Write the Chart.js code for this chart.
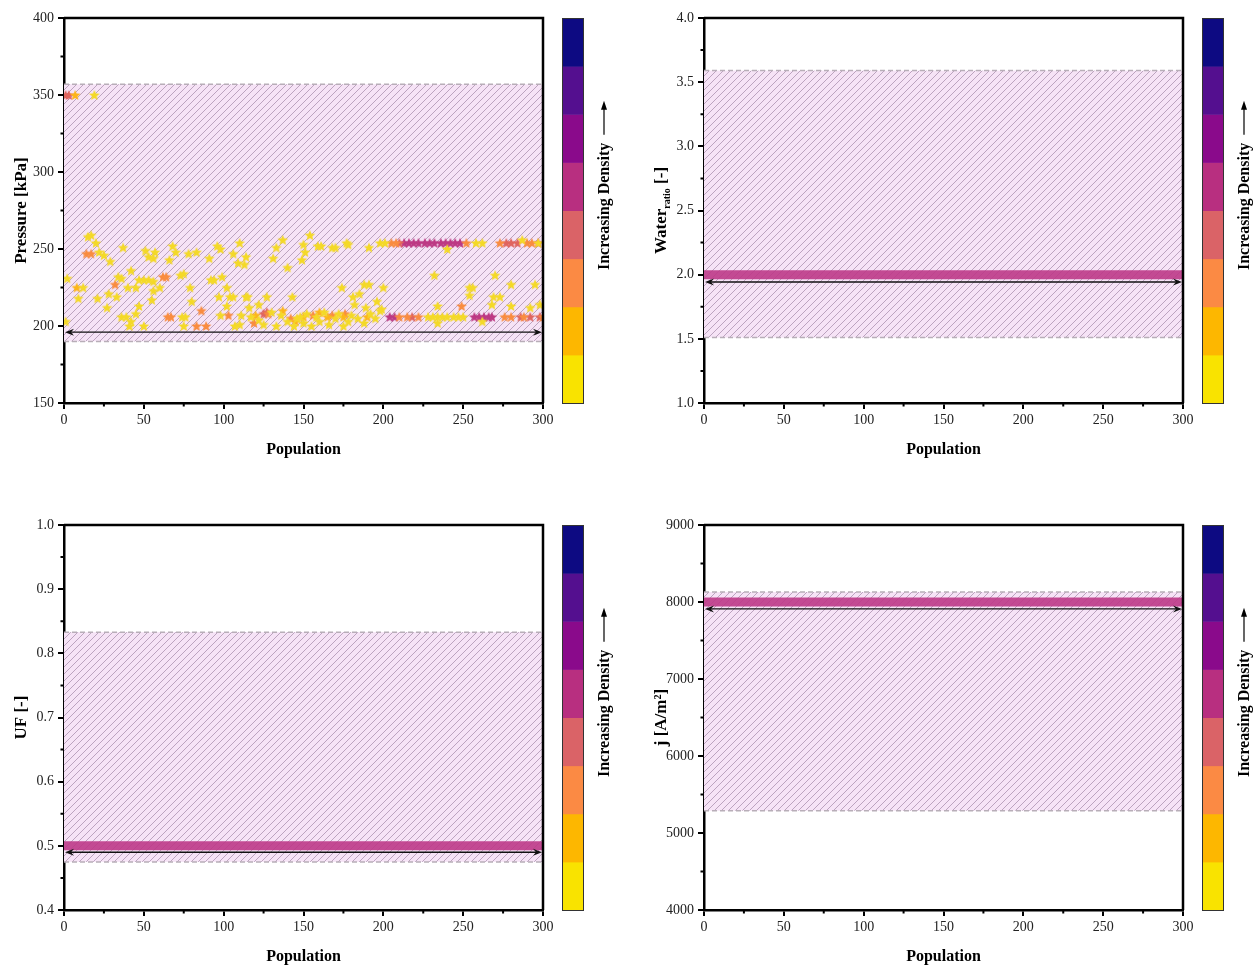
<!DOCTYPE html>
<html>
<head>
<meta charset="utf-8">
<title>Population density</title>
<script src="https://cdn.jsdelivr.net/npm/chart.js@4.4.1/dist/chart.umd.min.js"></script>
<style>
    html, body { margin: 0; padding: 0; background: #fff; }
    .panel { position: absolute; width: 629px; height: 462px; }
</style>
</head>
<body>
<div class="panel" style="left:0;top:0"><canvas id="pressureChart" width="629" height="462"></canvas></div>
<div class="panel" style="left:640px;top:0"><canvas id="waterChart" width="629" height="462"></canvas></div>
<div class="panel" style="left:0;top:507px"><canvas id="ufChart" width="629" height="462"></canvas></div>
<div class="panel" style="left:640px;top:507px"><canvas id="currentChart" width="629" height="462"></canvas></div>
<script>
// ---- Data ----
// Population index shared by all panels
const populationRange = [0, 300];
const populationTicks = [0, 50, 100, 150, 200, 250, 300];

// Density colour levels (bottom -> top of colour bar)
const densityColors = ['#F9E300', '#FDB700', '#FB8A44', '#DA6367', '#B82F80', '#8A0A8B', '#540F8F', '#0D0A82'];
const starColors = ['#F4D928', '#FDB51A', '#F98C40', '#E0655F', '#BD3984'];

// Pressure [kPa] - points per density level [population, value]
const pressureLevel0 = [
    [15,258],[17,259],[20,254],[22,248],[25,246],[29,242],[37,251],[51,249],[53,245],[57,248],[56,244],
    [66,243],[68,252],[70,248],[78,247],[83,248],[91,244],[96,252],[98,250],[106,247],[110,254],[109,241],
    [114,245],[113,240],[131,244],[133,251],[137,256],[140,238],[149,243],[150,253],[151,248],[154,259],
    [159,252],[161,252],[168,251],[170,251],[177,254],[178,253],[191,251],[198,254],[201,254],[240,250],
    [258,254],[262,254],[287,256],[297,254],
    [2,231],[12,225],[9,218],[21,218],[27,212],[28,221],[34,232],[36,231],[33,219],[42,236],[40,225],
    [45,225],[47,213],[47,230],[50,230],[53,230],[56,229],[56,223],[60,225],[55,217],[73,233],[75,234],
    [79,225],[80,216],[94,230],[92,230],[97,219],[99,232],[102,225],[104,219],[106,219],[102,213],
    [115,219],[116,212],[114,219],[122,214],[127,219],[143,219],[174,225],[181,219],[182,214],[185,221],
    [188,227],[189,212],[191,227],[196,216],[199,211],[200,225],[232,233],[234,213],[254,225],[256,225],
    [254,220],[268,214],[269,219],[270,233],[273,219],[280,227],[280,213],[292,212],[295,227],[298,214],
    [1,203],[36,206],[39,206],[42,203],[41,200],[45,208],[50,200],[74,206],[76,206],[75,200],[98,207],
    [107,200],[110,201],[111,207],[117,206],[122,204],[125,201],[130,209],[133,200],[136,207],[140,203],
    [144,200],[146,205],[148,206],[150,202],[152,208],[155,200],[158,206],[160,203],[163,209],[166,201],
    [170,205],[172,208],[175,200],[178,203],[180,207],[184,205],[188,202],[192,208],[195,205],[198,210],
    [228,206],[231,206],[234,206],[237,206],[240,206],[244,206],[247,206],[250,206],[234,202],[262,203],
    [19,350]
];
const pressureLevel1 = [
    [8,225],[120,207],[137,210],[150,206],[160,209],[175,206],[145,203],[190,206],[165,206],[7,350]
];
const pressureLevel2 = [
    [14,247],[17,247],[32,227],[62,232],[64,232],[65,206],[67,206],[83,200],[89,200],[86,210],[103,207],
    [119,202],[128,208],[142,205],[156,207],[168,207],[176,208],[205,254],[208,254],[252,254],[249,213],
    [276,206],[280,206],[288,206],[210,206],[215,206],[222,206],[300,206],[273,254],[290,254],[293,254]
];
const pressureLevel3 = [
    [1,350],[3,350],[127,209],[210,254],[277,254],[280,254],[284,254],[297,254],[218,206],[286,206],
    [292,206],[298,206],[125,208]
];
const pressureLevel4 = [
    [213,254],[216,254],[219,254],[222,254],[226,254],[229,254],[232,254],[236,254],[239,254],[242,254],
    [245,254],[248,254],[204,206],[207,206],[257,206],[260,206],[263,206],[266,206],[268,206]
];

// Converged values for the other variables (whole population)
const waterValue = 2.0;
const ufValue = 0.5;
const currentValue = 8000;

// Bounds (hatched band) and arrow positions
const pressureBand = [190, 357];
const waterBand = [1.51, 3.59];
const ufBand = [0.475, 0.833];
const currentBand = [5290, 8130];
const pressureArrow = 196;
const waterArrow = 1.943;
const ufArrow = 0.49;
const currentArrow = 7910;

// ---- Helpers ----
const SERIF = '"Liberation Serif", "Times New Roman", serif';

function makeStar(color, r) {
    const size = Math.ceil(r * 2 + 2);
    const c = document.createElement('canvas');
    c.width = c.height = size;
    const g = c.getContext('2d');
    g.translate(size / 2, size / 2 + 0.5);
    g.beginPath();
    for (let i = 0; i < 10; i++) {
        const rad = i % 2 ? r * 0.45 : r;
        const ang = -Math.PI / 2 + i * Math.PI / 5;
        g.lineTo(rad * Math.cos(ang), rad * Math.sin(ang));
    }
    g.closePath();
    g.fillStyle = color;
    g.fill();
    return c;
}

function makeHatch() {
    const s = 7;
    const c = document.createElement('canvas');
    c.width = c.height = s;
    const g = c.getContext('2d');
    g.fillStyle = '#F6E3F6';
    g.fillRect(0, 0, s, s);
    g.strokeStyle = 'rgba(150,120,155,0.6)';
    g.lineWidth = 1;
    g.beginPath();
    g.moveTo(-1, s + 1); g.lineTo(s + 1, -1);
    g.moveTo(-1, 1); g.lineTo(1, -1);
    g.moveTo(s - 1, s + 1); g.lineTo(s + 1, s - 1);
    g.stroke();
    return c;
}

const starImages = starColors.map(c => makeStar(c, 5.6));
const hatchTile = makeHatch();

function toPoints(arr) {
    return arr.map(p => ({ x: p[0], y: p[1] }));
}

function arrowHead(ctx, x, y, dir) {
    ctx.beginPath();
    ctx.moveTo(x, y);
    ctx.lineTo(x - dir * 9, y - 3.5);
    ctx.lineTo(x - dir * 6, y);
    ctx.lineTo(x - dir * 9, y + 3.5);
    ctx.closePath();
    ctx.fill();
}

// Draw band, arrow, frame, minor ticks, colour bar and y title
const panelDecor = {
    id: 'panelDecor',
    beforeDatasetsDraw(chart, args, opts) {
        const { ctx, chartArea: a, scales: { y } } = chart;
        const yTop = y.getPixelForValue(opts.band[1]);
        const yBot = y.getPixelForValue(opts.band[0]);
        ctx.save();
        ctx.fillStyle = ctx.createPattern(hatchTile, 'repeat');
        ctx.fillRect(a.left, yTop, a.right - a.left, yBot - yTop);
        ctx.setLineDash([5, 3]);
        ctx.strokeStyle = '#B8AEB8';
        ctx.lineWidth = 1.5;
        ctx.beginPath();
        ctx.moveTo(a.left, yTop); ctx.lineTo(a.right, yTop);
        ctx.moveTo(a.left, yBot); ctx.lineTo(a.right, yBot);
        ctx.stroke();
        ctx.restore();
    },
    afterDatasetsDraw(chart, args, opts) {
        const { ctx, chartArea: a, scales: { x, y } } = chart;
        ctx.save();

        // Double-headed arrow over the population range
        const ay = y.getPixelForValue(opts.arrowAt);
        const x0 = x.getPixelForValue(populationRange[0]);
        const x1 = x.getPixelForValue(populationRange[1]);
        ctx.strokeStyle = '#111';
        ctx.fillStyle = '#111';
        ctx.lineWidth = 1.3;
        ctx.beginPath();
        ctx.moveTo(x0 + 4, ay); ctx.lineTo(x1 - 4, ay);
        ctx.stroke();
        arrowHead(ctx, x0 + 1, ay, -1);
        arrowHead(ctx, x1 - 1, ay, 1);

        // Frame (top/right)
        ctx.strokeStyle = '#000';
        ctx.lineWidth = 2.5;
        ctx.beginPath();
        ctx.moveTo(a.left, a.top); ctx.lineTo(a.right, a.top); ctx.lineTo(a.right, a.bottom);
        ctx.stroke();

        // Minor ticks
        ctx.lineWidth = 2;
        ctx.beginPath();
        for (let v = 25; v < populationRange[1]; v += 50) {
            const px = x.getPixelForValue(v);
            ctx.moveTo(px, a.bottom); ctx.lineTo(px, a.bottom + 3.5);
        }
        for (let v = y.min + opts.minorStep; v < y.max; v += opts.minorStep * 2) {
            const py = y.getPixelForValue(v);
            ctx.moveTo(a.left, py); ctx.lineTo(a.left - 3.5, py);
        }
        ctx.stroke();

        // Colour bar
        const cbX = a.right + 19, cbW = 21;
        const segH = (a.bottom - a.top) / densityColors.length;
        densityColors.forEach((c, i) => {
            ctx.fillStyle = c;
            ctx.fillRect(cbX, a.bottom - (i + 1) * segH, cbW, segH + 0.5);
        });
        ctx.strokeStyle = '#333';
        ctx.lineWidth = 1;
        ctx.strokeRect(cbX + 0.5, a.top + 0.5, cbW, a.bottom - a.top);

        // Colour bar label with upward arrow
        ctx.save();
        ctx.translate(a.right + 66, a.bottom - 133);
        ctx.rotate(-Math.PI / 2);
        ctx.fillStyle = '#000';
        ctx.font = 'bold 16px ' + SERIF;
        ctx.textBaseline = 'alphabetic';
        ctx.textAlign = 'left';
        ctx.fillText('Increasing Density', 0, 0);
        const tw = ctx.measureText('Increasing Density').width;
        ctx.strokeStyle = '#000';
        ctx.lineWidth = 1.2;
        ctx.beginPath();
        ctx.moveTo(tw + 8, -5); ctx.lineTo(tw + 38, -5);
        ctx.stroke();
        ctx.beginPath();
        ctx.moveTo(tw + 42, -5); ctx.lineTo(tw + 33, -8); ctx.lineTo(tw + 33, -2);
        ctx.closePath();
        ctx.fill();
        ctx.restore();

        // Y axis title (supports subscript parts)
        ctx.save();
        ctx.translate(26, (a.top + a.bottom) / 2);
        ctx.rotate(-Math.PI / 2);
        ctx.fillStyle = '#000';
        ctx.textAlign = 'left';
        const parts = opts.yTitle;
        let total = 0;
        parts.forEach(p => {
            ctx.font = (p.sub ? 'bold 10px ' : 'bold 17px ') + SERIF;
            total += ctx.measureText(p.text).width;
        });
        let cx = -total / 2;
        parts.forEach(p => {
            ctx.font = (p.sub ? 'bold 10px ' : 'bold 17px ') + SERIF;
            ctx.fillText(p.text, cx, p.sub ? 4 : 0);
            cx += ctx.measureText(p.text).width;
        });
        ctx.restore();

        ctx.restore();
    }
};

function makeOptions(cfg) {
    return {
        responsive: false,
        animation: false,
        layout: { padding: { top: 18, right: 86, bottom: 3, left: 0 } },
        plugins: {
            legend: { display: false },
            tooltip: { enabled: false },
            panelDecor: cfg.decor
        },
        scales: {
            x: {
                type: 'linear',
                min: populationRange[0],
                max: populationRange[1],
                afterBuildTicks: s => { s.ticks = populationTicks.map(v => ({ value: v })); },
                afterFit: s => { s.height = 56; },
                border: { display: true, color: '#000', width: 2.5 },
                grid: { drawOnChartArea: false, drawTicks: true, tickLength: 6, color: '#000', lineWidth: 2 },
                ticks: { color: '#222', padding: 3, font: { family: SERIF, size: 14 }, maxRotation: 0 },
                title: {
                    display: true, text: 'Population', color: '#000',
                    font: { family: SERIF, size: 16, weight: 'bold' }, padding: { top: 6, bottom: 0 }
                }
            },
            y: {
                type: 'linear',
                min: cfg.yMin,
                max: cfg.yMax,
                afterFit: s => { s.width = 64; },
                border: { display: true, color: '#000', width: 2.5 },
                grid: { drawOnChartArea: false, drawTicks: true, tickLength: 6, color: '#000', lineWidth: 2 },
                ticks: {
                    stepSize: cfg.yStep, color: '#222', padding: 4,
                    font: { family: SERIF, size: 14 },
                    callback: v => cfg.yDecimals ? v.toFixed(cfg.yDecimals) : v
                }
            }
        }
    };
}

function scatterSet(points, level) {
    return {
        type: 'scatter',
        data: toPoints(points),
        pointStyle: starImages[level],
        pointRadius: 6,
        borderWidth: 0
    };
}

function convergedSet(value) {
    return {
        type: 'line',
        data: [{ x: populationRange[0], y: value }, { x: populationRange[1], y: value }],
        borderColor: 'rgba(190,56,136,0.9)',
        borderWidth: 9,
        pointRadius: 0
    };
}

// ---- Charts ----
function initCharts() {
    new Chart(document.getElementById('pressureChart').getContext('2d'), {
        type: 'scatter',
        data: {
            datasets: [
                scatterSet(pressureLevel0, 0),
                scatterSet(pressureLevel1, 1),
                scatterSet(pressureLevel2, 2),
                scatterSet(pressureLevel3, 3),
                scatterSet(pressureLevel4, 4)
            ]
        },
        options: makeOptions({
            yMin: 150, yMax: 400, yStep: 50,
            decor: { band: pressureBand, arrowAt: pressureArrow, minorStep: 25, yTitle: [{ text: 'Pressure [kPa]' }] }
        }),
        plugins: [panelDecor]
    });

    new Chart(document.getElementById('waterChart').getContext('2d'), {
        type: 'scatter',
        data: { datasets: [convergedSet(waterValue)] },
        options: makeOptions({
            yMin: 1, yMax: 4, yStep: 0.5, yDecimals: 1,
            decor: {
                band: waterBand, arrowAt: waterArrow, minorStep: 0.25,
                yTitle: [{ text: 'Water' }, { text: 'ratio', sub: true }, { text: ' [-]' }]
            }
        }),
        plugins: [panelDecor]
    });

    new Chart(document.getElementById('ufChart').getContext('2d'), {
        type: 'scatter',
        data: { datasets: [convergedSet(ufValue)] },
        options: makeOptions({
            yMin: 0.4, yMax: 1.0, yStep: 0.1, yDecimals: 1,
            decor: { band: ufBand, arrowAt: ufArrow, minorStep: 0.05, yTitle: [{ text: 'UF [-]' }] }
        }),
        plugins: [panelDecor]
    });

    new Chart(document.getElementById('currentChart').getContext('2d'), {
        type: 'scatter',
        data: { datasets: [convergedSet(currentValue)] },
        options: makeOptions({
            yMin: 4000, yMax: 9000, yStep: 1000,
            decor: { band: currentBand, arrowAt: currentArrow, minorStep: 500, yTitle: [{ text: 'j [A/m²]' }] }
        }),
        plugins: [panelDecor]
    });
}

initCharts();
</script>
</body>
</html>
